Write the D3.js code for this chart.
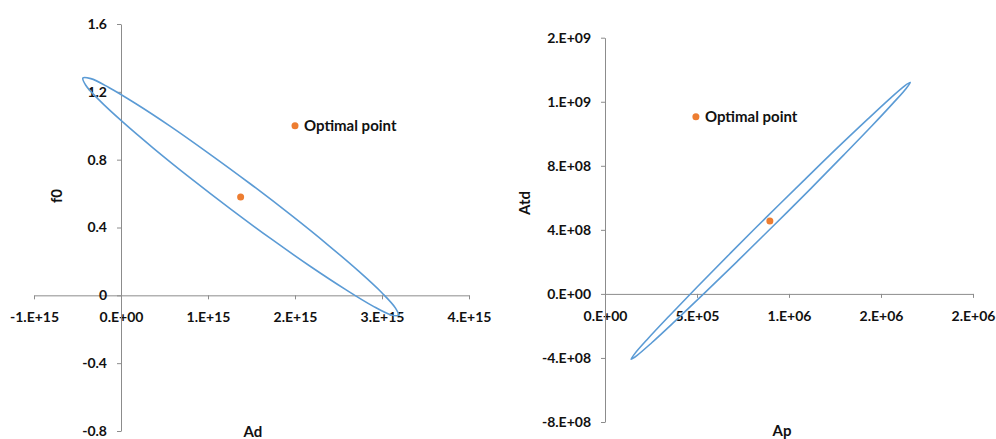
<!DOCTYPE html>
<html>
<head>
<meta charset="utf-8">
<script src="https://cdn.jsdelivr.net/npm/d3@7"></script>
<style>
  body { margin: 0; background: #fff; }
  text { font-family: Lato, "Open Sans", sans-serif; font-weight: bold; fill: #111; }
  .axis path, .axis line { stroke: #8c8c8c; }
</style>
</head>
<body>
<div class="chart"></div>
<script>
var svgWidth = 996;
var svgHeight = 439;

// left chart: Ad (x, in 1e15) vs f0 (y)
var adTicks = [-1e15, 0, 1e15, 2e15, 3e15, 4e15];
var adTickLabels = ["-1.E+15", "0.E+00", "1.E+15", "2.E+15", "3.E+15", "4.E+15"];
var f0Ticks = [-0.8, -0.4, 0, 0.4, 0.8, 1.2, 1.6];
var f0TickLabels = ["-0.8", "-0.4", "0", "0.4", "0.8", "1.2", "1.6"];
var adEllipse = [3.189, 3.098, 2.891, 2.579, 2.187, 1.739, 1.265, 0.799, 0.374, 0.016, -0.250, -0.405,
  -0.438, -0.347, -0.140, 0.172, 0.564, 1.012, 1.485, 1.952, 2.377, 2.735, 3.001, 3.155];
var f0Ellipse = [-0.118, -0.114, -0.062, 0.035, 0.167, 0.328, 0.507, 0.691, 0.867, 1.024, 1.151, 1.239,
  1.282, 1.278, 1.226, 1.130, 0.998, 0.836, 0.658, 0.474, 0.298, 0.141, 0.014, -0.075];
var leftEstimate = [1.375e15, 0.58];
var leftLegendAt = [2.0e15, 1.0];

// right chart: Ap (x, in 1e6) vs Atd (y, in 1e9)
var apTicks = [0, 5e5, 1e6, 1.5e6, 2e6];
var apTickLabels = ["0.E+00", "5.E+05", "1.E+06", "2.E+06", "2.E+06"];
var atdTicks = [-8e8, -4e8, 0, 4e8, 8e8, 1.2e9, 1.6e9];
var atdTickLabels = ["-8.E+08", "-4.E+08", "0.E+00", "4.E+08", "8.E+08", "1.E+09", "2.E+09"];
var apEllipse = [1.659, 1.638, 1.567, 1.451, 1.298, 1.117, 0.921, 0.724, 0.539, 0.378, 0.254, 0.173,
  0.142, 0.162, 0.233, 0.349, 0.502, 0.683, 0.879, 1.077, 1.261, 1.422, 1.547, 1.627];
var atdEllipse = [1.321, 1.285, 1.193, 1.050, 0.868, 0.656, 0.432, 0.209, 0.003, -0.173, -0.305, -0.385,
  -0.408, -0.373, -0.280, -0.138, 0.045, 0.256, 0.481, 0.704, 0.910, 1.085, 1.218, 1.298];
var rightEstimate = [8.96e5, 4.56e8];
var rightLegendAt = [4.94e5, 1.106e9];

var legendLabel = "Optimal point";
var blue = "#5b9bd5";
var orange = "#ed7d31";

var svg = d3.select(".chart")
  .append("svg")
  .attr("width", svgWidth)
  .attr("height", svgHeight);

function drawPanel(opt) {
  var x = d3.scaleLinear().domain(opt.xDomain).range(opt.xRange);
  var y = d3.scaleLinear().domain(opt.yDomain).range(opt.yRange);
  var g = svg.append("g");

  // x axis sits on y = 0
  g.append("g")
    .attr("class", "axis")
    .attr("transform", `translate(0, ${y(0)})`)
    .call(d3.axisBottom(x)
      .tickValues(opt.xTicks)
      .tickFormat((d, i) => opt.xLabels[i])
      .tickSize(4).tickSizeOuter(0).tickPadding(13))
    .call(a => a.selectAll("text").attr("font-size", 14));

  // y axis sits on x = 0
  g.append("g")
    .attr("class", "axis")
    .attr("transform", `translate(${x(0)}, 0)`)
    .call(d3.axisLeft(y)
      .tickValues(opt.yTicks)
      .tickFormat((d, i) => opt.yLabels[i])
      .tickSize(4).tickSizeOuter(0).tickPadding(10))
    .call(a => a.selectAll("text").attr("font-size", 14));

  var pts = opt.ex.map((d, i) => [d * opt.xUnit, opt.ey[i] * opt.yUnit]);
  g.append("path")
    .datum(pts)
    .attr("fill", "none")
    .attr("stroke", blue)
    .attr("stroke-width", 1.6)
    .attr("d", d3.line()
      .x(d => x(d[0]))
      .y(d => y(d[1]))
      .curve(d3.curveCatmullRomClosed));

  g.append("circle")
    .attr("cx", x(opt.est[0]))
    .attr("cy", y(opt.est[1]))
    .attr("r", 3.5)
    .attr("fill", orange);

  // legend entry inside the plot
  g.append("circle")
    .attr("cx", x(opt.leg[0]))
    .attr("cy", y(opt.leg[1]))
    .attr("r", 3.5)
    .attr("fill", orange);
  g.append("text")
    .attr("x", x(opt.leg[0]) + 9)
    .attr("y", y(opt.leg[1]))
    .attr("dy", "0.35em")
    .attr("font-size", 15)
    .text(legendLabel);

  g.append("text")
    .attr("transform", `translate(${opt.yTitleX}, ${opt.yTitleY}) rotate(-90)`)
    .attr("text-anchor", "middle")
    .attr("dy", "0.35em")
    .attr("font-size", 15)
    .text(opt.yTitle);

  g.append("text")
    .attr("x", opt.xTitleX)
    .attr("y", opt.xTitleY)
    .attr("text-anchor", "middle")
    .attr("dy", "0.35em")
    .attr("font-size", 15)
    .text(opt.xTitle);
}

drawPanel({
  xDomain: [-1e15, 4e15], xRange: [34, 469],
  yDomain: [-0.8, 1.6], yRange: [431, 24],
  xTicks: adTicks, xLabels: adTickLabels,
  yTicks: f0Ticks, yLabels: f0TickLabels,
  ex: adEllipse, ey: f0Ellipse, xUnit: 1e15, yUnit: 1,
  est: leftEstimate, leg: leftLegendAt,
  yTitle: "f0", yTitleX: 57, yTitleY: 196,
  xTitle: "Ad", xTitleX: 253, xTitleY: 432
});

drawPanel({
  xDomain: [0, 2e6], xRange: [605, 973],
  yDomain: [-8e8, 1.6e9], yRange: [422, 37.7],
  xTicks: apTicks, xLabels: apTickLabels,
  yTicks: atdTicks, yLabels: atdTickLabels,
  ex: apEllipse, ey: atdEllipse, xUnit: 1e6, yUnit: 1e9,
  est: rightEstimate, leg: rightLegendAt,
  yTitle: "Atd", yTitleX: 525, yTitleY: 203,
  xTitle: "Ap", xTitleX: 782, xTitleY: 431
});
</script>
</body>
</html>
